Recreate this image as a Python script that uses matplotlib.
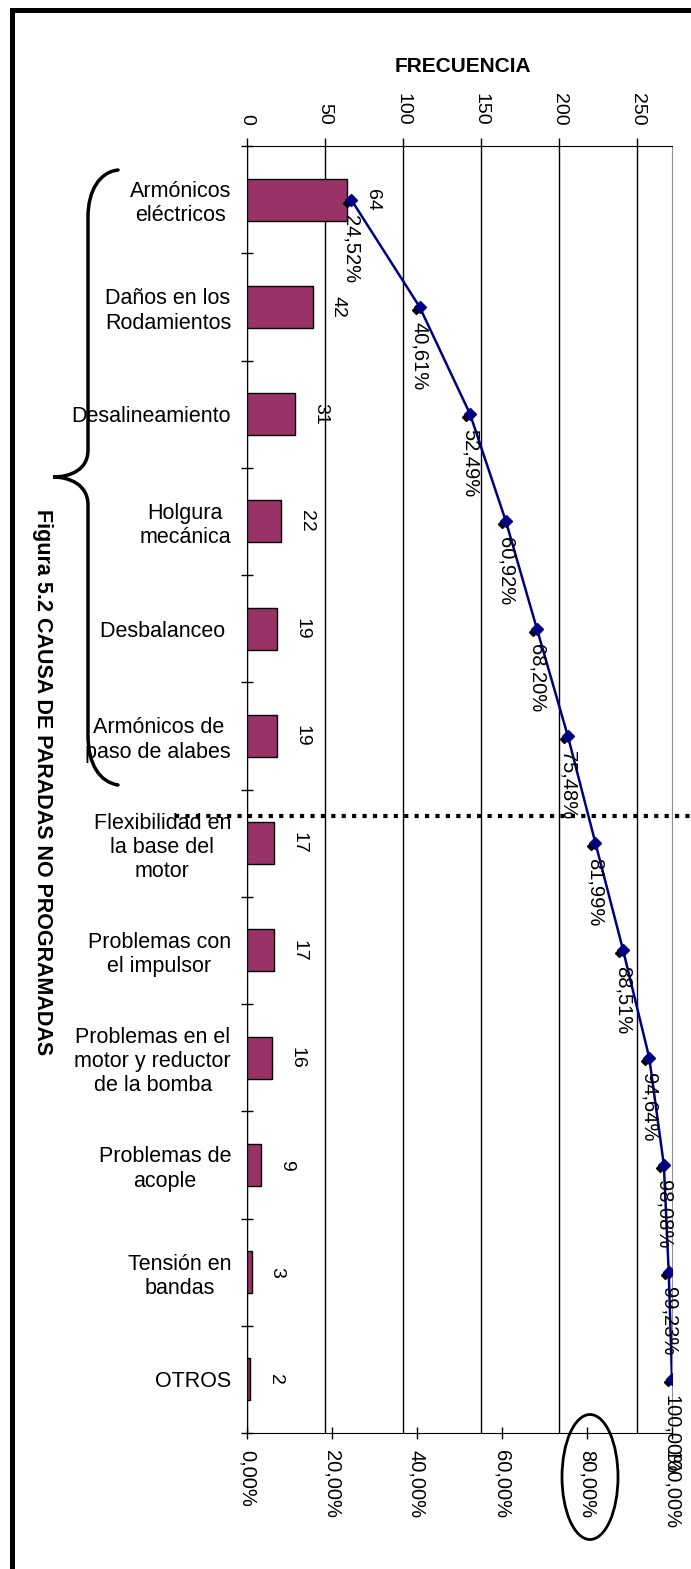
import matplotlib
matplotlib.use("Agg")
import matplotlib.pyplot as plt
import matplotlib.patches as mpatches
import matplotlib.transforms as mtransforms
from matplotlib.path import Path
import numpy as np

plt.rcParams['font.family'] = ['Liberation Sans', 'DejaVu Sans']

# ---------------- data ----------------
categories = ["Armónicos\neléctricos", "Daños en los\nRodamientos", "Desalineamiento",
              "Holgura\nmecánica", "Desbalanceo ", "Armónicos de\npaso de alabes",
              "Flexibilidad en\nla base del\nmotor", "Problemas con\nel impulsor",
              "Problemas en el\nmotor y reductor\nde la bomba", "Problemas de\nacople",
              "Tensión en\nbandas", "OTROS"]
frequency = [64, 42, 31, 22, 19, 19, 17, 17, 16, 9, 3, 2]
cumulative_pct = [24.52, 40.61, 52.49, 60.92, 68.20, 75.48, 81.99, 88.51, 94.64, 98.08, 99.23, 100.00]
freq_ticks = [0, 50, 100, 150, 200, 250]
pct_ticks = [0, 20, 40, 60, 80, 100]
pct_tick_labels = ["0,00%", "20,00%", "40,00%", "60,00%", "80,00%", "100,00%"]
title_top = "FRECUENCIA"
title_side = "Figura 5.2 CAUSA DE PARADAS NO PROGRAMADAS"

W, H = 691, 1569
fig = plt.figure(figsize=(W / 100, H / 100), dpi=100)
px = mtransforms.Affine2D().scale(1 / W, -1 / H).translate(0, 1) + fig.transFigure

L, R, T, B = 247, 672, 146, 1433
ax = fig.add_axes([L / W, 1 - B / H, (R - L) / W, (B - T) / H])
ax2 = ax.twiny()

n = len(categories)
ypos = np.arange(n)

# bars
ax.barh(ypos, frequency, height=0.39, color='#993366', edgecolor='black', linewidth=1, zorder=3)
ax.set_xlim(0, 272.4)
ax.set_ylim(n - 0.5, -0.5)
ax.xaxis.tick_top()
ax.set_xticks(freq_ticks)
ax.set_xticklabels([str(t) for t in freq_ticks], rotation=-90, fontsize=14)
ax.tick_params(axis='x', direction='out', length=6, width=1, pad=9, color='black')
ax.grid(axis='x', color='black', linewidth=1, zorder=1)
ax.set_axisbelow(True)
ax.set_yticks(ypos)
ax.set_yticklabels(categories, fontsize=15.5, ha='right', multialignment='center', linespacing=1.2)
ax.tick_params(axis='y', which='major', length=0, pad=11.5)
ax.set_yticks(np.arange(n + 1) - 0.5, minor=True)
ax.tick_params(axis='y', which='minor', direction='inout', length=9, width=1, color='black')
ax.spines['bottom'].set_visible(False)
ax.spines['right'].set_color('#909090')
ax.spines['top'].set_color('black')
ax.spines['left'].set_color('black')

for i, v in enumerate(frequency):
    ax.annotate(str(v), xy=(v, i), xytext=(12, 0), textcoords='offset points',
                rotation=-90, ha='left', va='center', fontsize=14, zorder=5)

# cumulative line
ax2.set_xlim(0, 100)
ax2.xaxis.tick_bottom()
ax2.set_xticks(pct_ticks)
ax2.set_xticklabels(pct_tick_labels, rotation=-90, fontsize=14.5)
ax2.tick_params(axis='x', direction='inout', length=9, width=1, pad=8, color='black')
for s in ['top', 'left', 'right']:
    ax2.spines[s].set_visible(False)
ax2.spines['bottom'].set_color('black')

shadow = mtransforms.ScaledTranslation(-4 / 100, -3 / 100, fig.dpi_scale_trans)
ax2.plot(cumulative_pct, ypos, ls='none', marker='D', ms=4, color='black',
         transform=ax2.transData + shadow, zorder=3)
ax2.plot(cumulative_pct, ypos, color='#000080', lw=1.8, marker='D', ms=6,
         mfc='#000080', mec='#000080', zorder=4)
for i, p in enumerate(cumulative_pct):
    lbl = f"{p:.2f}%".replace('.', ',')
    ax2.annotate(lbl, xy=(p, i), xytext=(0, -11), textcoords='offset points',
                 rotation=-90, ha='center', va='top', fontsize=14.5, zorder=5)
ax2.set_ylim(n - 0.5, -0.5)

# titles
fig.text(463 / W, 1 - 66 / H, title_top, ha='center', va='center', fontsize=15, fontweight='bold')
fig.text(42 / W, 1 - 782 / H, title_side, ha='center', va='center', rotation=-90,
         fontsize=15.5, fontweight='bold')

# decorations: outer frame (only top and left edges visible)
fig.lines.append(plt.Line2D([12, 12, W + 5], [H + 5, 10, 10], transform=px, color='black',
                            linewidth=3.6, solid_joinstyle='miter'))
# brace
verts = [(118, 170), (100, 172), (88, 190), (88, 217),
         (88, 450),
         (88, 470), (70, 477), (53, 477),
         (70, 477), (88, 485), (88, 505),
         (88, 735),
         (88, 765), (100, 782), (118, 785)]
codes = [Path.MOVETO, Path.CURVE4, Path.CURVE4, Path.CURVE4,
         Path.LINETO,
         Path.CURVE4, Path.CURVE4, Path.CURVE4,
         Path.CURVE4, Path.CURVE4, Path.CURVE4,
         Path.LINETO,
         Path.CURVE4, Path.CURVE4, Path.CURVE4]
fig.patches.append(mpatches.PathPatch(Path(verts, codes), transform=px, fill=False,
                                      edgecolor='black', linewidth=2.5, capstyle='round'))
# dotted 80% line
fig.lines.append(plt.Line2D([175, 691], [816, 816], transform=px, color='black',
                            linewidth=3, linestyle=(0, (1, 1.5))))
# ellipse around 80%
fig.patches.append(mpatches.Ellipse((590, 1477), 56, 125, transform=px, fill=False,
                                    edgecolor='black', linewidth=2))

fig.savefig("out.png", dpi=100)
